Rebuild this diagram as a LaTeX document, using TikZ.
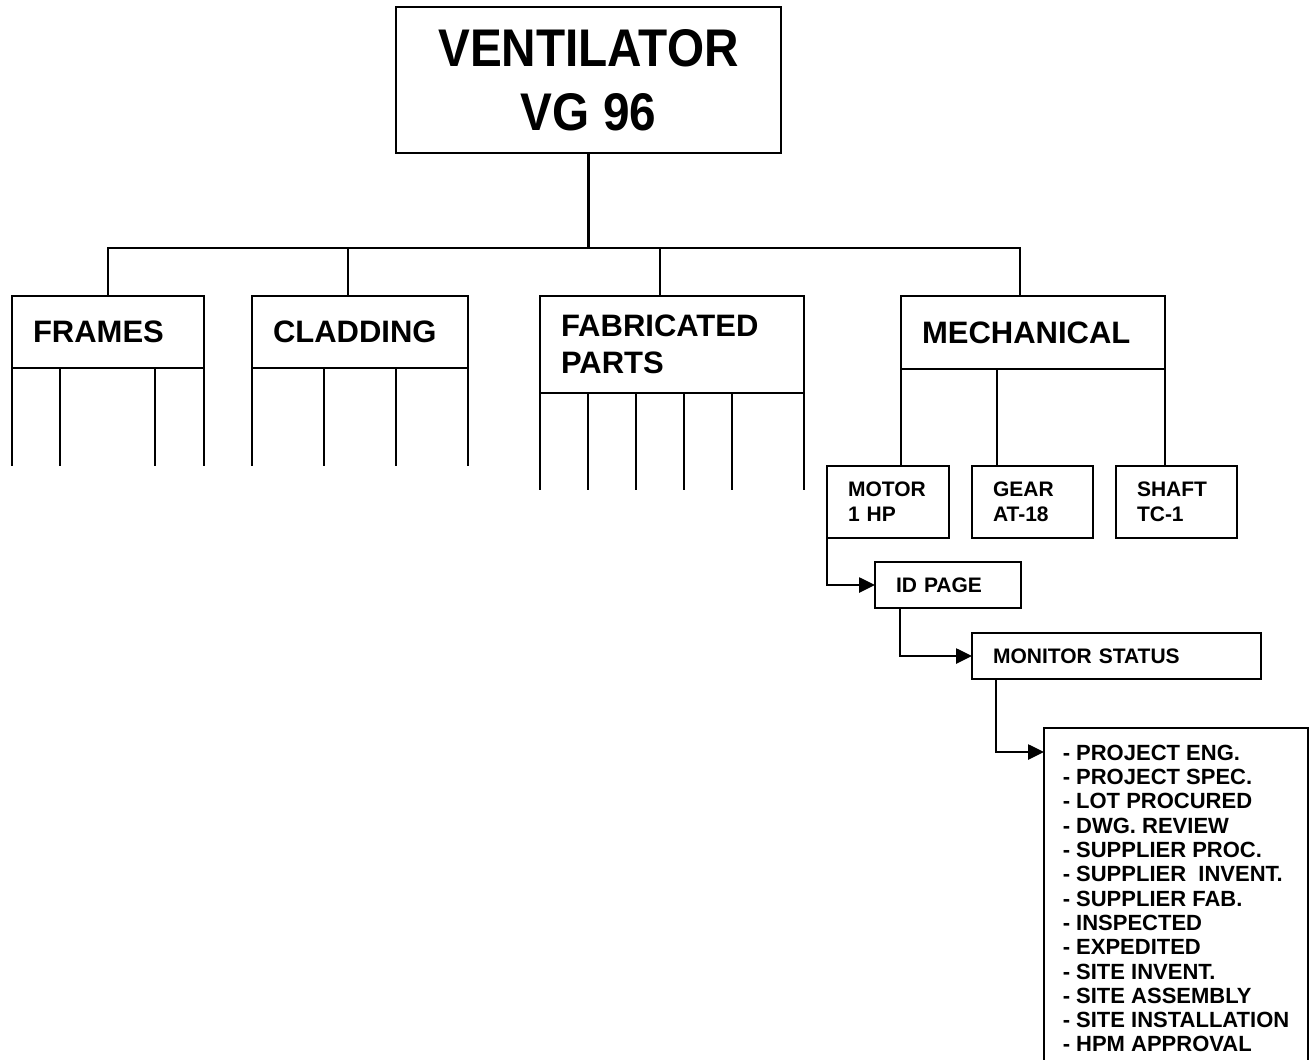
\documentclass[tikz,border=0pt]{standalone}
\usepackage{fontspec}
\setmainfont{Liberation Sans}
\newfontfamily\titlefont[FakeStretch=0.9]{Liberation Sans}
\usetikzlibrary{arrows.meta, positioning}
\tikzset{
  rootbox/.style  = {rectangle, draw, line width=2.6pt, outer sep=0pt,
                     anchor=north west, align=center, inner sep=0pt,
                     minimum width=385pt, minimum height=146pt,
                     font=\titlefont\fontsize{53}{64}\selectfont\bfseries},
  groupbox/.style = {rectangle, draw, line width=2.6pt, outer sep=0pt,
                     anchor=north west, align=left, inner xsep=21pt,
                     inner ysep=0pt, text width=#1, minimum height=72pt,
                     font=\fontsize{31}{37}\selectfont\bfseries},
  itembox/.style  = {rectangle, draw, line width=2.6pt, outer sep=0pt,
                     anchor=north west, align=left, inner xsep=21pt,
                     inner ysep=0pt, text width=#1, minimum height=72pt,
                     font=\fontsize{21}{25}\selectfont\bfseries},
  stagebox/.style = {itembox=#1, minimum height=46pt},
  listbox/.style  = {rectangle, draw, line width=2.6pt, outer sep=0pt,
                     anchor=north west, align=left, inner ysep=17pt,
                     minimum width=264pt,
                     font=\fontsize{22}{24.3}\selectfont\bfseries},
  leg/.style      = {line width=2.6pt},
  flow/.style     = {leg, -{Triangle[length=16pt, width=15pt]}},
}
\begin{document}
\begin{tikzpicture}[x=1pt, y=-1pt]
\useasboundingbox (0,0) rectangle (1312,1060);

% ---- Root -------------------------------------------------------------------
\node[rootbox] (root) at (396,7) {VENTILATOR\\VG 96};

% ---- Group row --------------------------------------------------------------
\node[groupbox=150pt] (frames) at (12,296)  {FRAMES};
\node[groupbox=174pt] (clad)   at (252,296) {CLADDING};
\node[groupbox=222pt, minimum height=97pt] (fab) at (540,296)
  {FABRICATED\\PARTS};
\node[groupbox=222pt, minimum height=73pt] (mech) at (901,296)
  {MECHANICAL};

% ---- Tree: root -> groups ---------------------------------------------------
\draw[leg] (root.south) -- ++(0,95) coordinate (hub);
\draw[leg] (hub) -| (frames.north);
\draw[leg] (hub) -| ([xshift=-12pt]clad.north);
\draw[leg] (hub) -| ([xshift=-12pt]fab.north);
\draw[leg] (hub) -| ([xshift=-13pt]mech.north);

% ---- Open legs under the groups ---------------------------------------------
\foreach \dx in {0,48,143,192}
  \draw[leg] ([xshift=\dx pt]frames.south west) -- ++(0,98);
\foreach \dx in {0,72,144,216}
  \draw[leg] ([xshift=\dx pt]clad.south west) -- ++(0,98);
\foreach \dx in {0,48,96,144,192,264}
  \draw[leg] ([xshift=\dx pt]fab.south west) -- ++(0,97);

% ---- Mechanical items -------------------------------------------------------
\node[itembox=80pt] (motor) at (827,466)  {MOTOR\\1 HP};
\node[itembox=79pt] (gear)  at (972,466)  {GEAR\\AT-18};
\node[itembox=79pt] (shaft) at (1116,466) {SHAFT\\TC-1};

\draw[leg] (mech.south west) -- (mech.south west |- motor.north);
\draw[leg] ([xshift=96pt]mech.south west)
        -- ([xshift=96pt]mech.south west |- gear.north);
\draw[leg] (mech.south east) -- (mech.south east |- shaft.north);

% ---- Tracking chain ---------------------------------------------------------
\node[stagebox=104pt] (idpage)  at (875,562) {ID PAGE};
\node[stagebox=247pt] (monitor) at (972,633) {MONITOR STATUS};
\node[listbox] (status) at (1044,728) {%
  - PROJECT ENG.\\
  - PROJECT SPEC.\\
  - LOT PROCURED\\
  - DWG. REVIEW\\
  - SUPPLIER PROC.\\
  - SUPPLIER~ INVENT.\\
  - SUPPLIER FAB.\\
  - INSPECTED\\
  - EXPEDITED\\
  - SITE INVENT.\\
  - SITE ASSEMBLY\\
  - SITE INSTALLATION\\
  - HPM APPROVAL};

\draw[flow] (motor.south west) |- (idpage.west);
\draw[flow] ([xshift=25pt]idpage.south west) |- (monitor.west);
\draw[flow] ([xshift=24pt]monitor.south west)
         |- ([yshift=-24pt]status.north west);

\end{tikzpicture}
\end{document}
